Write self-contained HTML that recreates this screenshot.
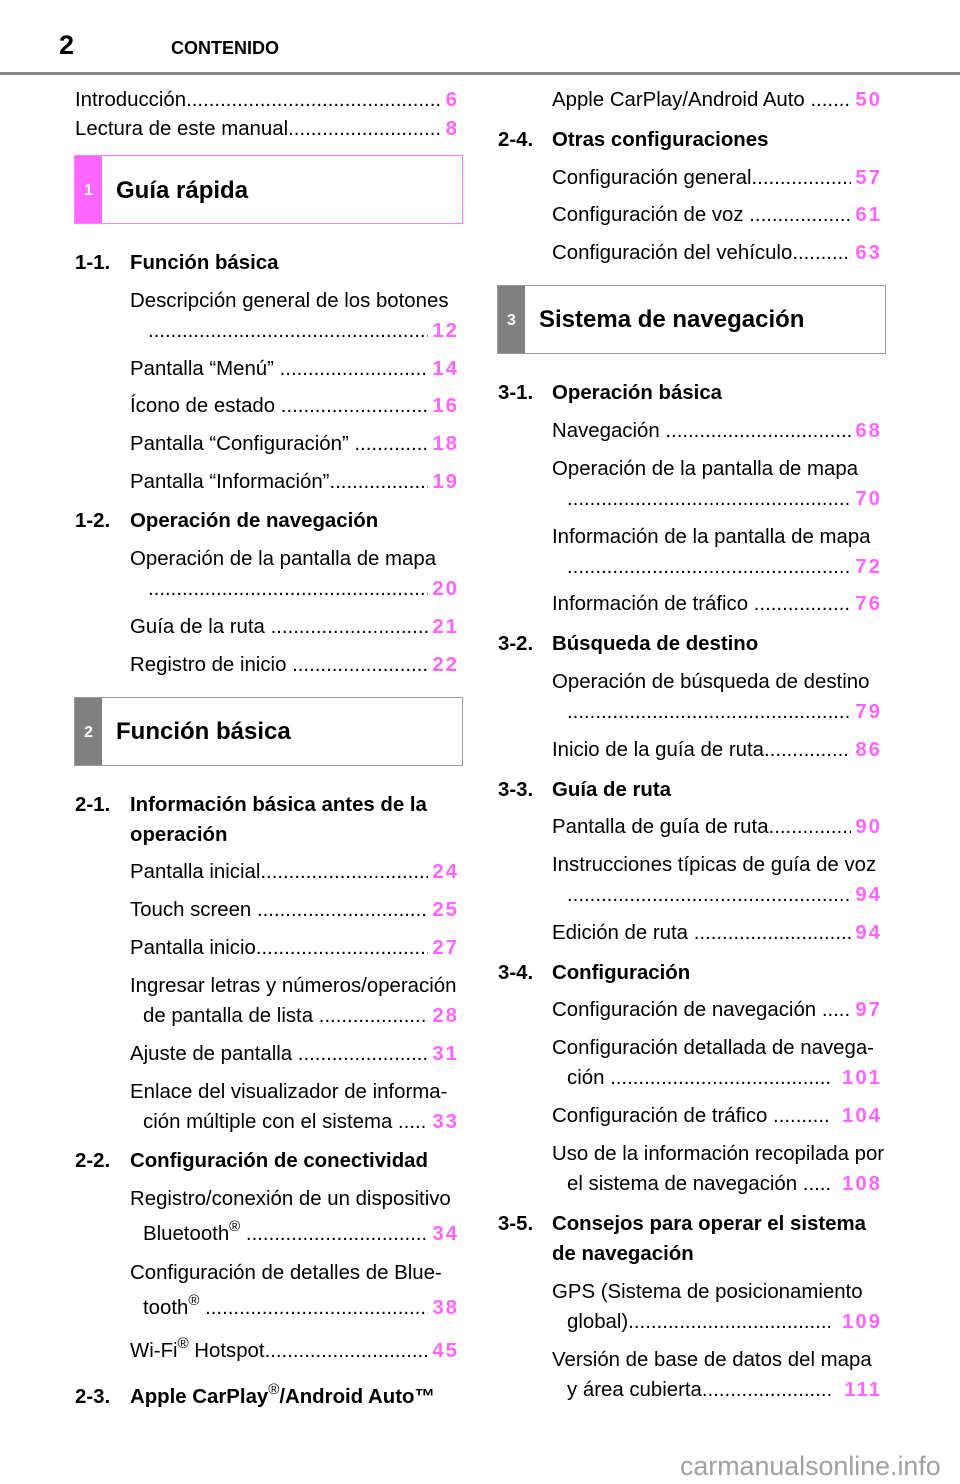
<!DOCTYPE html>
<html><head><meta charset="utf-8">
<style>
*{margin:0;padding:0;box-sizing:border-box}
html,body{width:960px;height:1484px;background:#fff;overflow:hidden}
body{position:relative;font-family:"Liberation Sans",Arial,sans-serif;color:#000}
.e{position:absolute;height:24px;line-height:24px;display:flex;font-size:20.4px;white-space:nowrap}
.e .t{flex:none}
.e .d{flex:1 1 auto;overflow:hidden;white-space:nowrap;min-width:0}
.e .n{flex:none;margin-left:4px;font-weight:bold;color:#ff66ff;letter-spacing:2px}
.p{position:absolute;height:24px;line-height:24px;font-size:20.4px;white-space:nowrap}
.h{position:absolute;height:24px;line-height:24px;font-size:20.4px;font-weight:bold;white-space:nowrap}
.box{position:absolute;width:389px;height:69px;border:1px solid #999}
.box .side{position:absolute;left:0;top:0;bottom:0;width:27px;background:#808080;color:#fff;font-weight:bold;font-size:16px;display:flex;align-items:center;justify-content:center;padding-top:3px}
.box .ti{position:absolute;left:41px;top:21px;font-size:24px;font-weight:bold;line-height:28px;white-space:nowrap}
sup{font-size:15px;line-height:0;vertical-align:baseline;position:relative;top:-9px;font-weight:normal}
</style></head><body>

<div style="position:absolute;left:59px;top:30px;font-size:27px;font-weight:bold;line-height:30px">2</div>
<div style="position:absolute;left:171px;top:37px;font-size:18px;font-weight:bold;line-height:22px">CONTENIDO</div>
<div style="position:absolute;left:0;top:72px;width:960px;height:3px;background:#868686"></div>

<!-- LEFT COLUMN -->
<div class="e" style="left:75px;width:384px;top:88px"><span class="t">Introducción</span><span class="d">....................................................................................................</span><span class="n">6</span></div>
<div class="e" style="left:75px;width:384px;top:117px"><span class="t">Lectura de este manual</span><span class="d">....................................................................................................</span><span class="n">8</span></div>

<div class="box" style="left:74px;top:155px;border-color:#ff80ff"><div class="side" style="background:#ff66ff">1</div><div class="ti">Guía rápida</div></div>

<div class="h" style="left:75px;top:251px">1-1.</div><div class="h" style="left:130px;top:251px">Función básica</div>
<div class="p" style="left:130px;top:289px">Descripción general de los botones</div>
<div class="e" style="left:148px;width:311px;top:319px"><span class="d">....................................................................................................</span><span class="n">12</span></div>
<div class="e" style="left:130px;width:329px;top:357px"><span class="t">Pantalla “Menú”&nbsp;</span><span class="d">....................................................................................................</span><span class="n">14</span></div>
<div class="e" style="left:130px;width:329px;top:394px"><span class="t">Ícono de estado&nbsp;</span><span class="d">....................................................................................................</span><span class="n">16</span></div>
<div class="e" style="left:130px;width:329px;top:432px"><span class="t">Pantalla “Configuración”&nbsp;</span><span class="d">....................................................................................................</span><span class="n">18</span></div>
<div class="e" style="left:130px;width:329px;top:470px"><span class="t">Pantalla “Información”</span><span class="d">....................................................................................................</span><span class="n">19</span></div>

<div class="h" style="left:75px;top:509px">1-2.</div><div class="h" style="left:130px;top:509px">Operación de navegación</div>
<div class="p" style="left:130px;top:547px">Operación de la pantalla de mapa</div>
<div class="e" style="left:148px;width:311px;top:577px"><span class="d">....................................................................................................</span><span class="n">20</span></div>
<div class="e" style="left:130px;width:329px;top:615px"><span class="t">Guía de la ruta&nbsp;</span><span class="d">....................................................................................................</span><span class="n">21</span></div>
<div class="e" style="left:130px;width:329px;top:653px"><span class="t">Registro de inicio&nbsp;</span><span class="d">....................................................................................................</span><span class="n">22</span></div>

<div class="box" style="left:74px;top:697px"><div class="side">2</div><div class="ti" style="top:20px">Función básica</div></div>

<div class="h" style="left:75px;top:793px">2-1.</div><div class="h" style="left:130px;top:793px">Información básica antes de la</div>
<div class="h" style="left:130px;top:823px">operación</div>
<div class="e" style="left:130px;width:329px;top:860px"><span class="t">Pantalla inicial</span><span class="d">....................................................................................................</span><span class="n">24</span></div>
<div class="e" style="left:130px;width:329px;top:898px"><span class="t">Touch screen&nbsp;</span><span class="d">....................................................................................................</span><span class="n">25</span></div>
<div class="e" style="left:130px;width:329px;top:936px"><span class="t">Pantalla inicio</span><span class="d">....................................................................................................</span><span class="n">27</span></div>
<div class="p" style="left:130px;top:974px">Ingresar letras y números/operación</div>
<div class="e" style="left:143px;width:316px;top:1004px"><span class="t">de pantalla de lista&nbsp;</span><span class="d">....................................................................................................</span><span class="n">28</span></div>
<div class="e" style="left:130px;width:329px;top:1042px"><span class="t">Ajuste de pantalla&nbsp;</span><span class="d">....................................................................................................</span><span class="n">31</span></div>
<div class="p" style="left:130px;top:1080px">Enlace del visualizador de informa-</div>
<div class="e" style="left:143px;width:316px;top:1110px"><span class="t">ción múltiple con el sistema&nbsp;</span><span class="d">....................................................................................................</span><span class="n">33</span></div>

<div class="h" style="left:75px;top:1149px">2-2.</div><div class="h" style="left:130px;top:1149px">Configuración de conectividad</div>
<div class="p" style="left:130px;top:1187px">Registro/conexión de un dispositivo</div>
<div class="e" style="left:143px;width:316px;top:1222px"><span class="t">Bluetooth<sup>®</sup>&nbsp;</span><span class="d">....................................................................................................</span><span class="n">34</span></div>
<div class="p" style="left:130px;top:1261px">Configuración de detalles de Blue-</div>
<div class="e" style="left:143px;width:316px;top:1296px"><span class="t">tooth<sup>®</sup>&nbsp;</span><span class="d">....................................................................................................</span><span class="n">38</span></div>
<div class="e" style="left:130px;width:329px;top:1339px"><span class="t">Wi-Fi<sup>®</sup> Hotspot</span><span class="d">....................................................................................................</span><span class="n">45</span></div>

<div class="h" style="left:75px;top:1385px">2-3.</div><div class="h" style="left:130px;top:1385px">Apple CarPlay<sup>®</sup>/Android Auto™</div>

<!-- RIGHT COLUMN -->
<div class="e" style="left:552px;width:330px;top:88px"><span class="t">Apple CarPlay/Android Auto&nbsp;</span><span class="d">....................................................................................................</span><span class="n">50</span></div>
<div class="h" style="left:498px;top:128px">2-4.</div><div class="h" style="left:552px;top:128px">Otras configuraciones</div>
<div class="e" style="left:552px;width:330px;top:166px"><span class="t">Configuración general</span><span class="d">....................................................................................................</span><span class="n">57</span></div>
<div class="e" style="left:552px;width:330px;top:203px"><span class="t">Configuración de voz&nbsp;</span><span class="d">....................................................................................................</span><span class="n">61</span></div>
<div class="e" style="left:552px;width:330px;top:241px"><span class="t">Configuración del vehículo</span><span class="d">....................................................................................................</span><span class="n">63</span></div>

<div class="box" style="left:497px;top:285px"><div class="side">3</div><div class="ti" style="top:20px">Sistema de navegación</div></div>

<div class="h" style="left:498px;top:381px">3-1.</div><div class="h" style="left:552px;top:381px">Operación básica</div>
<div class="e" style="left:552px;width:330px;top:419px"><span class="t">Navegación&nbsp;</span><span class="d">....................................................................................................</span><span class="n">68</span></div>
<div class="p" style="left:552px;top:457px">Operación de la pantalla de mapa</div>
<div class="e" style="left:567px;width:315px;top:487px"><span class="d">....................................................................................................</span><span class="n">70</span></div>
<div class="p" style="left:552px;top:525px">Información de la pantalla de mapa</div>
<div class="e" style="left:567px;width:315px;top:555px"><span class="d">....................................................................................................</span><span class="n">72</span></div>
<div class="e" style="left:552px;width:330px;top:592px"><span class="t">Información de tráfico&nbsp;</span><span class="d">....................................................................................................</span><span class="n">76</span></div>

<div class="h" style="left:498px;top:632px">3-2.</div><div class="h" style="left:552px;top:632px">Búsqueda de destino</div>
<div class="p" style="left:552px;top:670px">Operación de búsqueda de destino</div>
<div class="e" style="left:567px;width:315px;top:700px"><span class="d">....................................................................................................</span><span class="n">79</span></div>
<div class="e" style="left:552px;width:330px;top:738px"><span class="t">Inicio de la guía de ruta</span><span class="d">....................................................................................................</span><span class="n">86</span></div>

<div class="h" style="left:498px;top:778px">3-3.</div><div class="h" style="left:552px;top:778px">Guía de ruta</div>
<div class="e" style="left:552px;width:330px;top:815px"><span class="t">Pantalla de guía de ruta</span><span class="d">....................................................................................................</span><span class="n">90</span></div>
<div class="p" style="left:552px;top:853px">Instrucciones típicas de guía de voz</div>
<div class="e" style="left:567px;width:315px;top:883px"><span class="d">....................................................................................................</span><span class="n">94</span></div>
<div class="e" style="left:552px;width:330px;top:921px"><span class="t">Edición de ruta&nbsp;</span><span class="d">....................................................................................................</span><span class="n">94</span></div>

<div class="h" style="left:498px;top:961px">3-4.</div><div class="h" style="left:552px;top:961px">Configuración</div>
<div class="e" style="left:552px;width:330px;top:998px"><span class="t">Configuración de navegación&nbsp;</span><span class="d">....................................................................................................</span><span class="n">97</span></div>
<div class="p" style="left:552px;top:1036px">Configuración detallada de navega-</div>
<div class="e" style="left:567px;width:315px;top:1066px"><span class="t">ción&nbsp;</span><span class="d">....................................................................................................</span><span class="n">&nbsp;101</span></div>
<div class="e" style="left:552px;width:330px;top:1104px"><span class="t">Configuración de tráfico&nbsp;</span><span class="d">....................................................................................................</span><span class="n">&nbsp;104</span></div>
<div class="p" style="left:552px;top:1142px">Uso de la información recopilada por</div>
<div class="e" style="left:567px;width:315px;top:1172px"><span class="t">el sistema de navegación&nbsp;</span><span class="d">....................................................................................................</span><span class="n">&nbsp;108</span></div>

<div class="h" style="left:498px;top:1212px">3-5.</div><div class="h" style="left:552px;top:1212px">Consejos para operar el sistema</div>
<div class="h" style="left:552px;top:1242px">de navegación</div>
<div class="p" style="left:552px;top:1280px">GPS (Sistema de posicionamiento</div>
<div class="e" style="left:567px;width:315px;top:1310px"><span class="t">global)</span><span class="d">....................................................................................................</span><span class="n">&nbsp;109</span></div>
<div class="p" style="left:552px;top:1348px">Versión de base de datos del mapa</div>
<div class="e" style="left:567px;width:315px;top:1378px"><span class="t">y área cubierta</span><span class="d">....................................................................................................</span><span class="n">&nbsp;111</span></div>

<div style="position:absolute;left:680px;top:1451px;font-size:26.8px;line-height:30px;color:#a0a0a0;white-space:nowrap">carmanualsonline.info</div>

</body></html>
